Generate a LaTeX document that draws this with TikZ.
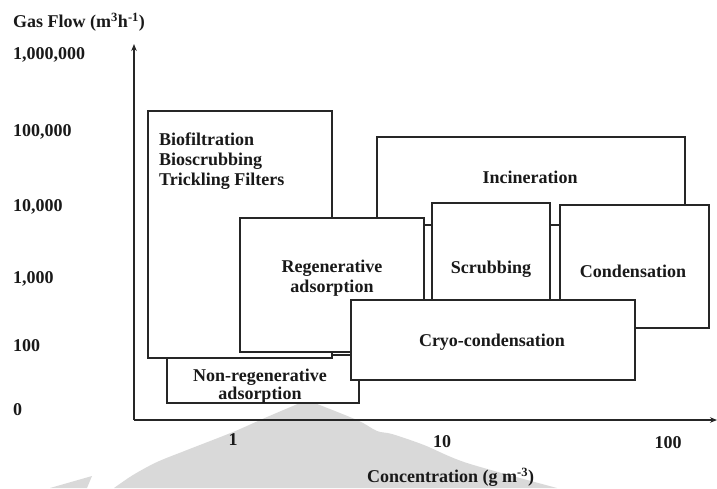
\documentclass[tikz,border=0pt]{standalone}
\usepackage{fontspec}
\setmainfont{Liberation Serif}
\usetikzlibrary{arrows.meta}
\begin{document}
\begin{tikzpicture}[x=1pt,y=-1pt,
  box/.style={draw=black!85,line width=1.2pt,fill=white,inner sep=0pt},
  lbl/.style={font=\fontsize{18}{20}\selectfont\bfseries,inner sep=0pt,text=black!90},
  axis/.style={line width=1.6pt,draw=black!85,-{Stealth[length=7pt,width=5.5pt]}}]
\useasboundingbox (0,0) rectangle (717,488);
% watermark
\fill[black!15] plot[smooth,tension=0.5] coordinates {(307,400)(267,417)(233,432)(187,450)(157,462)(133,475)(114,488)}
  -- (557,488) -- plot[smooth,tension=0.5] coordinates {(557,488)(467,463)(424,445)(392,434)(377,431)(357,420)(307,400)} -- cycle;
\fill[black!15] (92,476) -- (50,488) -- (87,488) -- cycle;
% axes
\coordinate (o) at (134,420);
\coordinate (ytop) at (134,44);
\coordinate (xend) at (717,420);
\draw[axis] (o) -- (ytop);
\draw[axis] (o) -- (xend);
% boxes (back to front)
\node[box,minimum width=308pt,minimum height=88pt] (inc) at (531,181) {};
\node[box,minimum width=118pt,minimum height=107pt] (scr) at (491,256.5) {};
\node[box,minimum width=149pt,minimum height=123pt] (cond) at (634.5,266.5) {};
\node[box,minimum width=192pt,minimum height=48pt] (nonreg) at (263,379) {};
\node[box,minimum width=184pt,minimum height=247pt] (bio) at (240,234.5) {};
\node[box,minimum width=184pt,minimum height=134pt] (reg) at (332,285) {};
\node[box,minimum width=284pt,minimum height=80pt] (cryo) at (493,340) {};
% texts
\node[lbl,anchor=north west,align=left] (biot) at (159,133) {Biofiltration\\Bioscrubbing\\Trickling Filters};
\node[lbl] (inct) at (530,177) {Incineration};
\node[lbl] (scrt) at (491,269) {Scrubbing};
\node[lbl] (condt) at (633,271) {Condensation};
\node[lbl,align=center] (regt) at (332,278) {Regenerative\\adsorption};
\node[lbl] (cryot) at (492,342) {Cryo-condensation};
\node[lbl,align=center,font=\fontsize{18}{15}\selectfont\bfseries] (nonregt) at (260,386) {Non-regenerative\\adsorption};
% axis labels
\node[lbl,anchor=west] (yl) at (13,22) {Gas Flow (m\textsuperscript{3}h\textsuperscript{-1})};
\node[lbl,anchor=west] (y6) at (13,55) {1,000,000};
\node[lbl,anchor=west] (y5) at (13,132) {100,000};
\node[lbl,anchor=west] (y4) at (13,207) {10,000};
\node[lbl,anchor=west] (y3) at (13,279) {1,000};
\node[lbl,anchor=west] (y2) at (13,346) {100};
\node[lbl,anchor=west] (y0) at (13,410) {0};
\node[lbl] (x1) at (233,440) {1};
\node[lbl] (x10) at (442,442) {10};
\node[lbl] (x100) at (668,443) {100};
\node[lbl,anchor=west] (xl) at (367,477) {Concentration (g m\textsuperscript{-3})};
\end{tikzpicture}
\end{document}
